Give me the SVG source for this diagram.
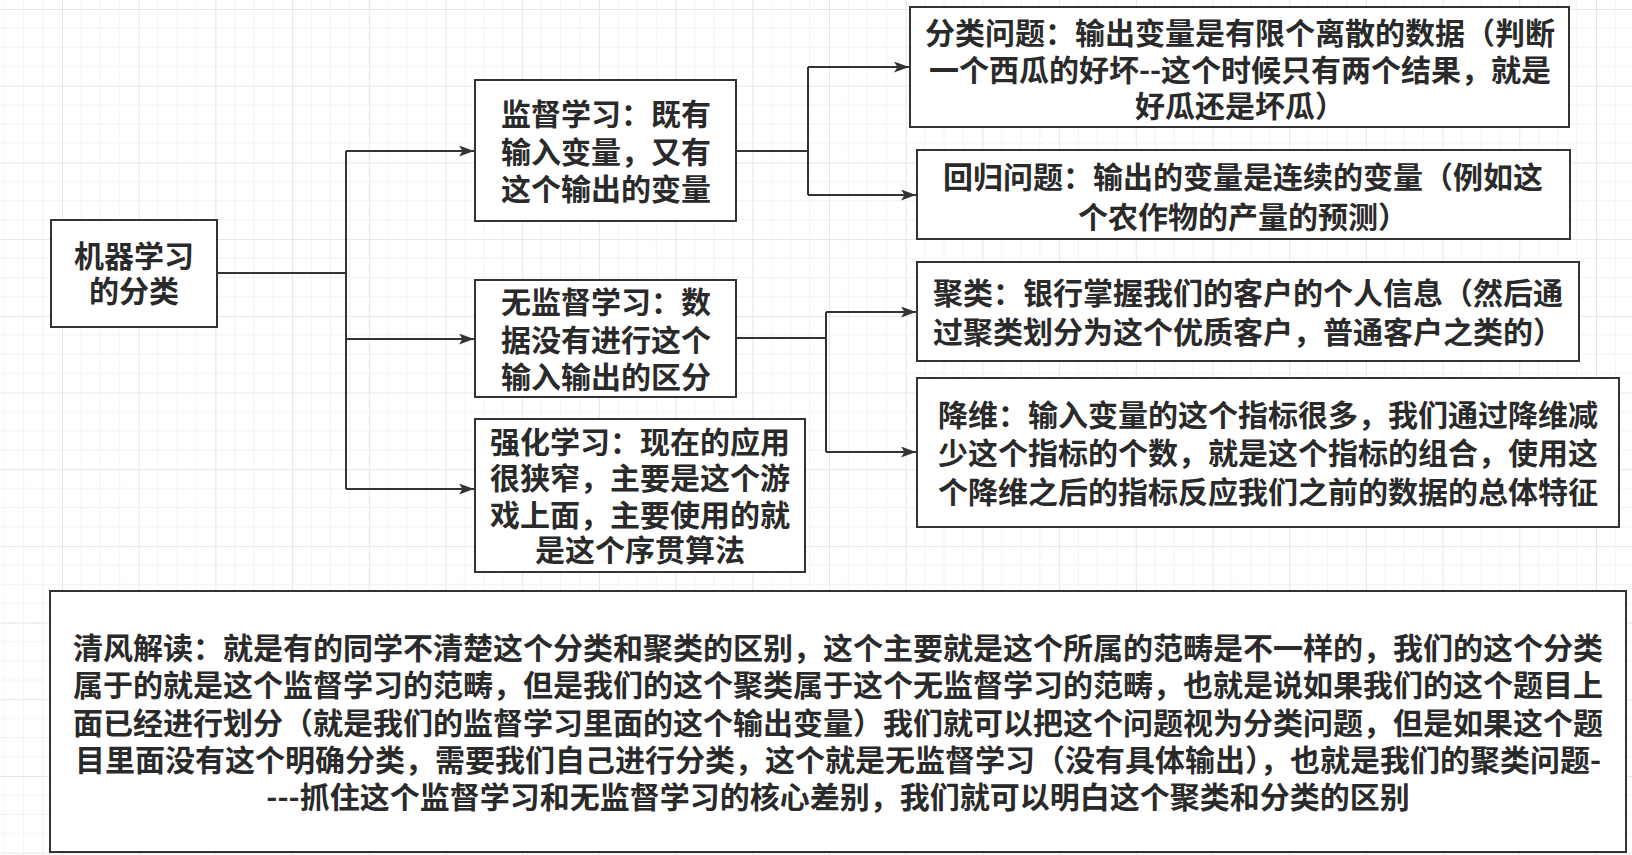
<svg xmlns="http://www.w3.org/2000/svg" width="1632" height="855" viewBox="0 0 1632 855">
<defs>
<pattern id="grid" x="62" y="9" width="76.7" height="76.7" patternUnits="userSpaceOnUse">
<path d="M19.175,0V76.7M38.35,0V76.7M57.525,0V76.7M0,19.175H76.7M0,38.35H76.7M0,57.525H76.7" stroke="#f2f2f2" stroke-width="1" fill="none"/>
<path d="M0.5,0V76.7M0,0.5H76.7" stroke="#e6e6e6" stroke-width="1" fill="none"/>
</pattern>
<marker id="arr" markerUnits="userSpaceOnUse" markerWidth="16" markerHeight="12" refX="15" refY="5.5" orient="auto">
<path d="M0,0 L15,5.5 L0,11 L3.5,5.5 z" fill="#333"/>
</marker>
<style>
.box{fill:#fff;stroke:#333;stroke-width:2}
.t{font-family:"Noto Sans CJK SC","Noto Sans",sans-serif;font-size:30px;font-weight:700;fill:#2a2a2a;text-anchor:middle}
.c{fill:none;stroke:#333;stroke-width:2}
</style>
</defs>
<rect width="1632" height="855" fill="#fff"/>
<rect width="1632" height="855" fill="url(#grid)"/>

<g id="connectors">
<path class="c" d="M217,273 H346 M346,151 V489"/>
<path class="c" d="M346,151 H474" marker-end="url(#arr)"/>
<path class="c" d="M346,339 H474" marker-end="url(#arr)"/>
<path class="c" d="M346,489 H474" marker-end="url(#arr)"/>
<path class="c" d="M736,151 H808 M808,67 V195"/>
<path class="c" d="M808,67 H909" marker-end="url(#arr)"/>
<path class="c" d="M808,195 H916" marker-end="url(#arr)"/>
<path class="c" d="M736,338 H826 M826,312 V452"/>
<path class="c" d="M826,312 H916" marker-end="url(#arr)"/>
<path class="c" d="M826,452 H916" marker-end="url(#arr)"/>
</g>

<g id="n-root">
<rect class="box" x="51" y="220" width="166" height="107"/>
<text class="t"><tspan x="134" y="267">机器学习</tspan><tspan x="134" y="302">的分类</tspan></text>
</g>
<g id="n-supervised">
<rect class="box" x="475" y="80" width="261" height="141"/>
<text class="t"><tspan x="606" y="125">监督学习：既有</tspan><tspan x="606" y="163">输入变量，又有</tspan><tspan x="606" y="200">这个输出的变量</tspan></text>
</g>
<g id="n-unsupervised">
<rect class="box" x="475" y="280" width="261" height="117"/>
<text class="t"><tspan x="606" y="313">无监督学习：数</tspan><tspan x="606" y="351">据没有进行这个</tspan><tspan x="606" y="388">输入输出的区分</tspan></text>
</g>
<g id="n-reinforce">
<rect class="box" x="475" y="419" width="330" height="153"/>
<text class="t"><tspan x="640" y="453">强化学习：现在的应用</tspan><tspan x="640" y="489">很狭窄，主要是这个游</tspan><tspan x="640" y="526">戏上面，主要使用的就</tspan><tspan x="640" y="561">是这个序贯算法</tspan></text>
</g>
<g id="n-classification">
<rect class="box" x="910" y="7" width="659" height="120"/>
<text class="t"><tspan x="1240" y="44">分类问题：输出变量是有限个离散的数据（判断</tspan><tspan x="1240" y="81">一个西瓜的好坏--这个时候只有两个结果，就是</tspan><tspan x="1240" y="117">好瓜还是坏瓜）</tspan></text>
</g>
<g id="n-regression">
<rect class="box" x="917" y="150" width="653" height="89"/>
<text class="t"><tspan x="1243" y="188">回归问题：输出的变量是连续的变量（例如这</tspan><tspan x="1243" y="228">个农作物的产量的预测）</tspan></text>
</g>
<g id="n-clustering">
<rect class="box" x="917" y="262" width="662" height="99"/>
<text class="t"><tspan x="1248" y="304">聚类：银行掌握我们的客户的个人信息（然后通</tspan><tspan x="1248" y="343">过聚类划分为这个优质客户，普通客户之类的）</tspan></text>
</g>
<g id="n-dimred">
<rect class="box" x="917" y="378" width="702" height="149"/>
<text class="t"><tspan x="1268" y="426">降维：输入变量的这个指标很多，我们通过降维减</tspan><tspan x="1268" y="464">少这个指标的个数，就是这个指标的组合，使用这</tspan><tspan x="1268" y="503">个降维之后的指标反应我们之前的数据的总体特征</tspan></text>
</g>
<g id="n-note">
<rect class="box" x="50" y="591" width="1576" height="261"/>
<text class="t"><tspan x="838" y="659">清风解读：就是有的同学不清楚这个分类和聚类的区别，这个主要就是这个所属的范畴是不一样的，我们的这个分类</tspan><tspan x="838" y="696">属于的就是这个监督学习的范畴，但是我们的这个聚类属于这个无监督学习的范畴，也就是说如果我们的这个题目上</tspan><tspan x="838" y="734">面已经进行划分（就是我们的监督学习里面的这个输出变量）我们就可以把这个问题视为分类问题，但是如果这个题</tspan><tspan x="838" y="771">目里面没有这个明确分类，需要我们自己进行分类，这个就是无监督学习（没有具体输出），也就是我们的聚类问题-</tspan><tspan x="838" y="808">---抓住这个监督学习和无监督学习的核心差别，我们就可以明白这个聚类和分类的区别</tspan></text>
</g>
</svg>
